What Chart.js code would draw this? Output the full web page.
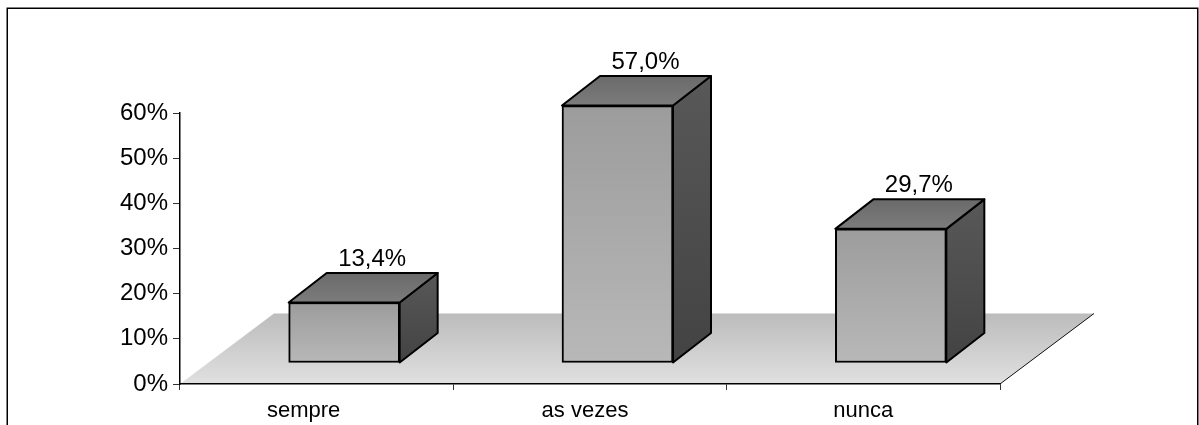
<!DOCTYPE html>
<html><head><meta charset="utf-8">
<style>html,body{margin:0;padding:0;background:#fff;overflow:hidden}#w{width:1199px;height:425px;position:relative}</style>
<script src="https://cdn.jsdelivr.net/npm/chart.js@4/dist/chart.umd.js"></script>
</head><body><div id="w"><canvas id="c" width="1199" height="425"></canvas></div>
<script>
const categories = ["sempre", "as vezes", "nunca"];
const percentValues = [13.4, 57.0, 29.7];
const yTicks = [0, 10, 20, 30, 40, 50, 60];

const FLOOR = {dx: 94, dy: -70.5};
const SHIFT = {dx: 27.5, dy: -21};
const DEPTH = {dx: 38, dy: -29.5};
const LABEL_DX = 28, LABEL_GAP = 7;
const CATEGORY_LABEL_NUDGE = [-13, -5, 0];
const CATEGORY_BASELINE_GAP = 33;
const FONT = '"Liberation Sans", Arial, sans-serif';

function poly(ctx, pts, fill, stroke, lw) {
  ctx.beginPath();
  pts.forEach((p, i) => i ? ctx.lineTo(p[0], p[1]) : ctx.moveTo(p[0], p[1]));
  ctx.closePath();
  ctx.fillStyle = fill; ctx.fill();
  if (stroke) { ctx.strokeStyle = stroke; ctx.lineWidth = lw; ctx.lineJoin = 'round'; ctx.stroke(); }
}
function vgrad(ctx, y0, y1, a, b) {
  const g = ctx.createLinearGradient(0, y0, 0, y1);
  g.addColorStop(0, a); g.addColorStop(1, b); return g;
}

const scene = {
  id: 'scene',
  beforeDraw(chart) {
    const {ctx, chartArea: a} = chart;
    ctx.save();
    ctx.strokeStyle = '#000'; ctx.lineWidth = 1.5;
    ctx.strokeRect(7.25, 8.25, 1190.5, 430);
    const b = a.bottom, t = b + FLOOR.dy;
    poly(ctx, [[a.left, b], [a.right, b], [a.right + FLOOR.dx, t], [a.left + FLOOR.dx, t]],
      vgrad(ctx, t, b, '#bcbcbc', '#e0e0e0'));
    ctx.beginPath(); ctx.moveTo(a.right, b); ctx.lineTo(a.right + FLOOR.dx, t);
    ctx.strokeStyle = '#111'; ctx.lineWidth = 1; ctx.stroke();
    ctx.restore();
  },
  beforeDatasetDraw(chart) {
    const ctx = chart.ctx;
    ctx.save();
    const meta = chart.getDatasetMeta(0);
    meta.data.forEach(el => {
      const p = el.getProps(['x', 'y', 'base', 'width'], true);
      const l = p.x - p.width / 2 + SHIFT.dx, r = p.x + p.width / 2 + SHIFT.dx;
      const top = p.y + SHIFT.dy, bot = p.base + SHIFT.dy;
      poly(ctx, [[r, top], [r + DEPTH.dx, top + DEPTH.dy], [r + DEPTH.dx, bot + DEPTH.dy], [r, bot]],
        vgrad(ctx, top + DEPTH.dy, bot, '#585858', '#434343'), '#000', 2);
      poly(ctx, [[l, top], [l + DEPTH.dx, top + DEPTH.dy], [r + DEPTH.dx, top + DEPTH.dy], [r, top]],
        vgrad(ctx, top + DEPTH.dy, top, '#6a6a6a', '#7c7c7c'), '#000', 2);
    });
    ctx.restore();
    ctx.save();
    ctx.translate(SHIFT.dx, SHIFT.dy);
  },
  afterDatasetDraw(chart) { chart.ctx.restore(); },
  afterDatasetsDraw(chart) {
    const ctx = chart.ctx;
    ctx.save();
    ctx.font = '24px ' + FONT; ctx.fillStyle = '#000';
    ctx.textAlign = 'center'; ctx.textBaseline = 'alphabetic';
    chart.getDatasetMeta(0).data.forEach((el, i) => {
      const p = el.getProps(['x', 'y'], true);
      const txt = percentValues[i].toFixed(1).replace('.', ',') + '%';
      ctx.fillText(txt, p.x + SHIFT.dx + LABEL_DX, p.y + SHIFT.dy + DEPTH.dy - LABEL_GAP);
    });
    const xs = chart.scales.x;
    ctx.font = '22px ' + FONT;
    categories.forEach((name, i) => {
      ctx.fillText(name, xs.getPixelForValue(i) + CATEGORY_LABEL_NUDGE[i], chart.chartArea.bottom + CATEGORY_BASELINE_GAP);
    });
    ctx.restore();
  }
};

new Chart(document.getElementById('c'), {
  type: 'bar',
  data: {labels: categories, datasets: [{
    data: percentValues,
    barThickness: 111,
    borderColor: '#000',
    borderWidth: 2,
    borderSkipped: false,
    clip: false,
    backgroundColor(c) {
      const s = c.chart.scales.y;
      if (!s || !c.chart.chartArea) return '#aaa';
      return vgrad(c.chart.ctx, s.getPixelForValue(c.raw), s.getPixelForValue(0), '#9c9c9c', '#b8b8b8');
    }
  }]},
  plugins: [scene],
  options: {
    responsive: false, animation: false,
    layout: {padding: {left: 0, right: 199, top: 113, bottom: 0}, autoPadding: false},
    plugins: {legend: {display: false}, tooltip: {enabled: false}, title: {display: false}},
    scales: {
      x: {
        afterFit(s) { s.height = 41; },
        grid: {drawOnChartArea: false, drawTicks: true, tickLength: 6, color: '#333', offset: true},
        border: {color: '#000', width: 1.5},
        ticks: {display: false}
      },
      y: {
        min: 0, max: 60,
        afterFit(s) { s.width = 180; },
        afterBuildTicks(s) { s.ticks = yTicks.map(v => ({value: v})); },
        grid: {drawOnChartArea: false, drawTicks: true, tickLength: 7, color: '#333'},
        border: {color: '#000', width: 1.5},
        ticks: {color: '#000', font: {family: FONT, size: 24}, padding: 5, callback: v => v + '%'}
      }
    }
  }
});
</script></body></html>
